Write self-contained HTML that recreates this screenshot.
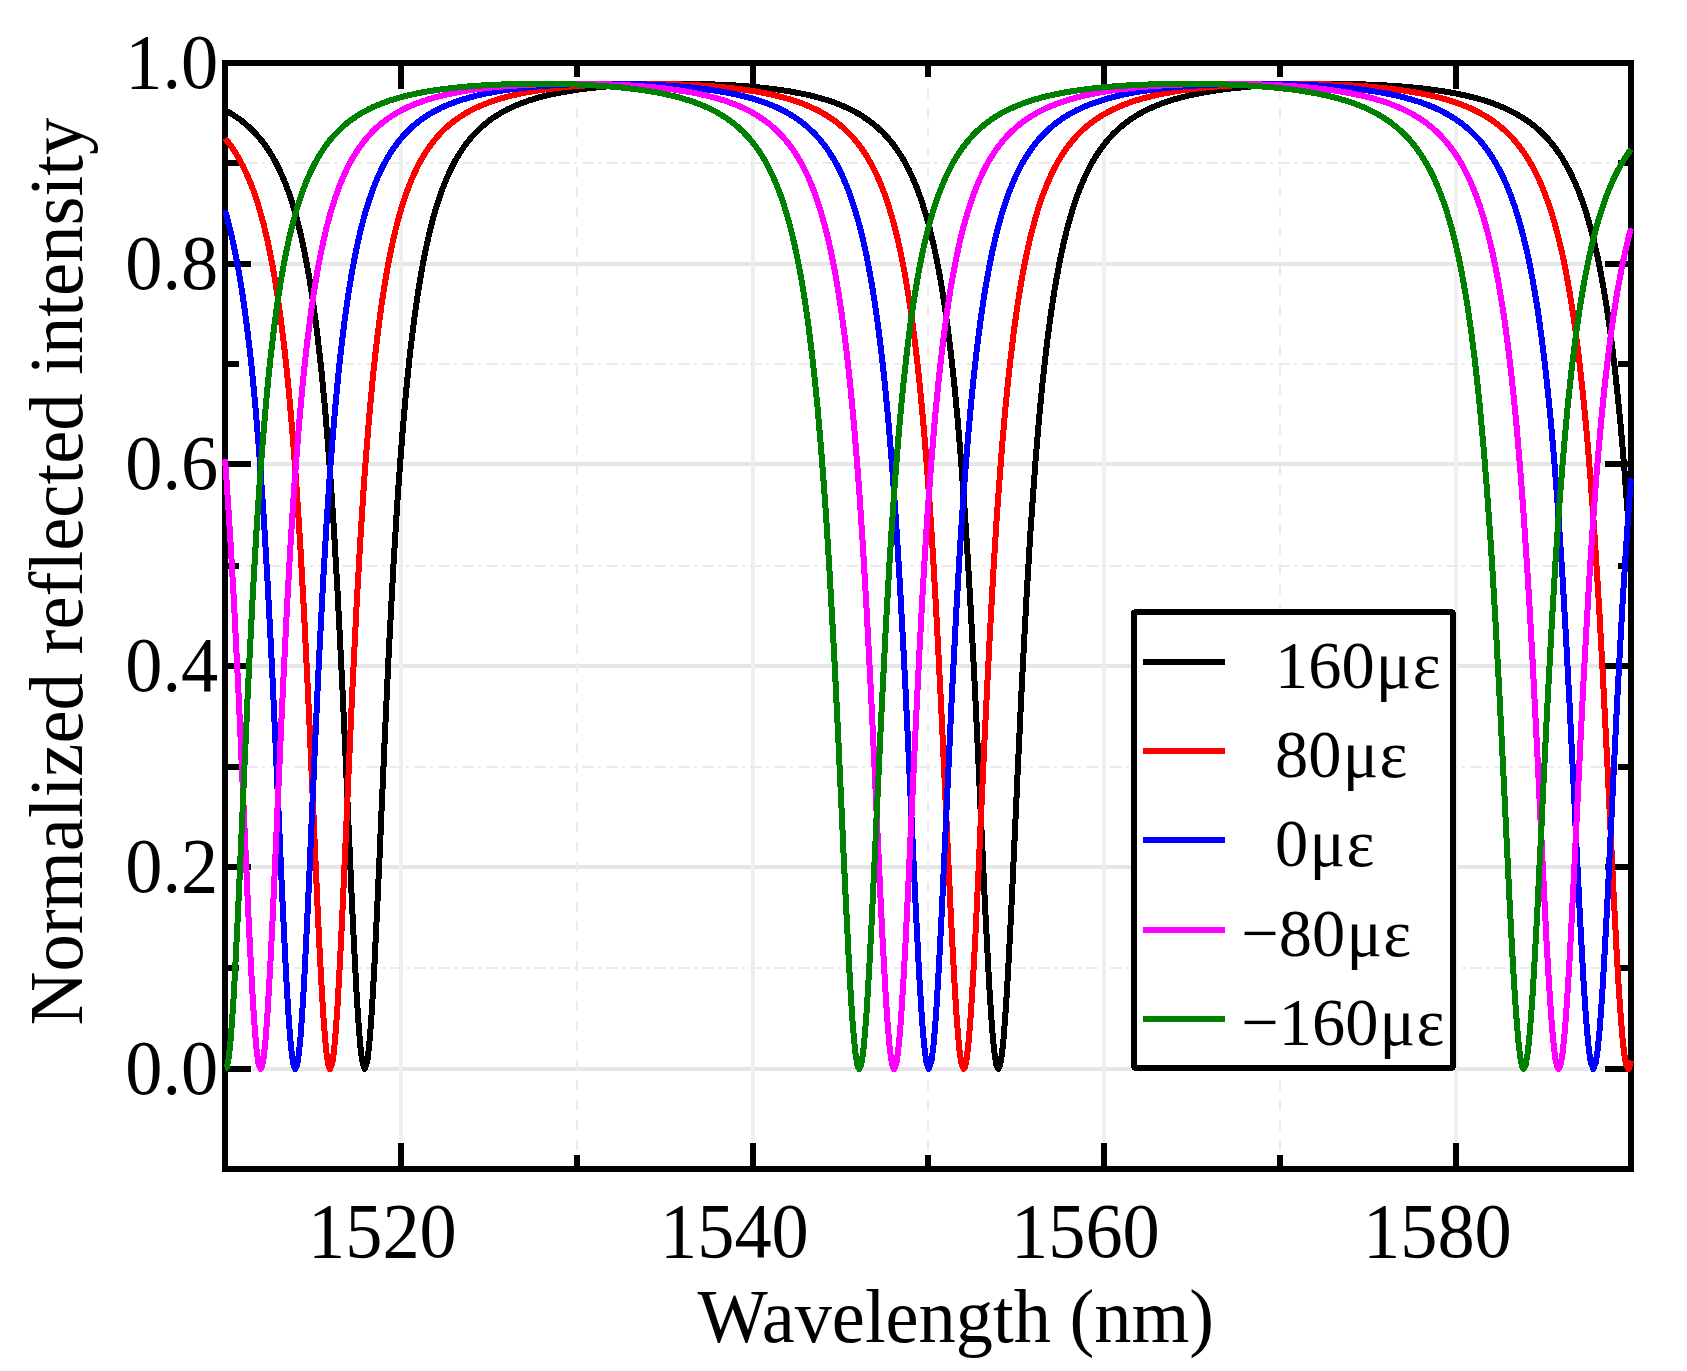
<!DOCTYPE html>
<html lang="en"><head><meta charset="utf-8"><title>Normalized reflected intensity vs wavelength</title>
<style>html,body{margin:0;padding:0;background:#fff;}body{width:1687px;height:1371px;overflow:hidden;}svg{display:block;}text{font-family:"Liberation Serif","Times New Roman",serif;fill:#000;}</style>
</head><body>
<svg width="1687" height="1371" viewBox="0 0 1687 1371">
<rect x="0" y="0" width="1687" height="1371" fill="#ffffff"/>
<defs><clipPath id="ax"><rect x="225" y="63" width="1406" height="1106"/></clipPath></defs>
<g id="grid" fill="none" shape-rendering="crispEdges">
<line x1="252" x2="1604" y1="264" y2="264" stroke="#e6e6e6" stroke-width="4"/>
<line x1="252" x2="1604" y1="464" y2="464" stroke="#e6e6e6" stroke-width="4"/>
<line x1="252" x2="1604" y1="666" y2="666" stroke="#e6e6e6" stroke-width="4"/>
<line x1="252" x2="1604" y1="867" y2="867" stroke="#e6e6e6" stroke-width="4"/>
<line x1="252" x2="1604" y1="1069" y2="1069" stroke="#e6e6e6" stroke-width="4"/>
<line x1="401" x2="401" y1="90" y2="1142" stroke="#efefef" stroke-width="4"/>
<line x1="753" x2="753" y1="90" y2="1142" stroke="#efefef" stroke-width="4"/>
<line x1="1104" x2="1104" y1="90" y2="1142" stroke="#efefef" stroke-width="4"/>
<line x1="1456" x2="1456" y1="90" y2="1142" stroke="#efefef" stroke-width="4"/>
<line x1="222" x2="1618" y1="163" y2="163" stroke="#ebebeb" stroke-width="2" stroke-dasharray="12 4 3 5"/>
<line x1="222" x2="1618" y1="364" y2="364" stroke="#ebebeb" stroke-width="2" stroke-dasharray="12 4 3 5"/>
<line x1="222" x2="1618" y1="566" y2="566" stroke="#ebebeb" stroke-width="2" stroke-dasharray="12 4 3 5"/>
<line x1="222" x2="1618" y1="767" y2="767" stroke="#ebebeb" stroke-width="2" stroke-dasharray="12 4 3 5"/>
<line x1="222" x2="1618" y1="968" y2="968" stroke="#ebebeb" stroke-width="2" stroke-dasharray="12 4 3 5"/>
<line x1="577" x2="577" y1="67.85" y2="1154" stroke="#ebebeb" stroke-width="2" stroke-dasharray="10 9.85"/>
<line x1="928" x2="928" y1="67.85" y2="1154" stroke="#ebebeb" stroke-width="2" stroke-dasharray="10 9.85"/>
<line x1="1280" x2="1280" y1="67.85" y2="1154" stroke="#ebebeb" stroke-width="2" stroke-dasharray="10 9.85"/>
</g>
<g id="frame" stroke="#000" stroke-width="6" fill="none" shape-rendering="crispEdges">
<rect x="225" y="63" width="1406" height="1106"/>
<line x1="401" x2="401" y1="1169" y2="1143"/>
<line x1="401" x2="401" y1="63" y2="89"/>
<line x1="753" x2="753" y1="1169" y2="1143"/>
<line x1="753" x2="753" y1="63" y2="89"/>
<line x1="1104" x2="1104" y1="1169" y2="1143"/>
<line x1="1104" x2="1104" y1="63" y2="89"/>
<line x1="1456" x2="1456" y1="1169" y2="1143"/>
<line x1="1456" x2="1456" y1="63" y2="89"/>
<line x1="577" x2="577" y1="1169" y2="1155"/>
<line x1="577" x2="577" y1="63" y2="77"/>
<line x1="928" x2="928" y1="1169" y2="1155"/>
<line x1="928" x2="928" y1="63" y2="77"/>
<line x1="1280" x2="1280" y1="1169" y2="1155"/>
<line x1="1280" x2="1280" y1="63" y2="77"/>
<line x1="225" x2="251" y1="63" y2="63"/>
<line x1="1631" x2="1605" y1="63" y2="63"/>
<line x1="225" x2="251" y1="264" y2="264"/>
<line x1="1631" x2="1605" y1="264" y2="264"/>
<line x1="225" x2="251" y1="464" y2="464"/>
<line x1="1631" x2="1605" y1="464" y2="464"/>
<line x1="225" x2="251" y1="666" y2="666"/>
<line x1="1631" x2="1605" y1="666" y2="666"/>
<line x1="225" x2="251" y1="867" y2="867"/>
<line x1="1631" x2="1605" y1="867" y2="867"/>
<line x1="225" x2="251" y1="1069" y2="1069"/>
<line x1="1631" x2="1605" y1="1069" y2="1069"/>
<line x1="225" x2="239" y1="163" y2="163"/>
<line x1="1631" x2="1618" y1="163" y2="163"/>
<line x1="225" x2="239" y1="364" y2="364"/>
<line x1="1631" x2="1618" y1="364" y2="364"/>
<line x1="225" x2="239" y1="566" y2="566"/>
<line x1="1631" x2="1618" y1="566" y2="566"/>
<line x1="225" x2="239" y1="767" y2="767"/>
<line x1="1631" x2="1618" y1="767" y2="767"/>
<line x1="225" x2="239" y1="968" y2="968"/>
<line x1="1631" x2="1618" y1="968" y2="968"/>
</g>
<defs><clipPath id="cv"><rect x="221" y="60" width="1414" height="1112"/></clipPath></defs>
<g id="curves" clip-path="url(#cv)" fill="none" stroke-width="6" stroke-linejoin="round" stroke-linecap="butt" shape-rendering="crispEdges">
<polyline stroke="#000000" points="225.0,110.2 226.8,111.1 228.5,112.1 230.3,113.1 232.0,114.2 233.8,115.3 235.5,116.5 237.3,117.7 239.1,118.9 240.8,120.2 242.6,121.6 244.3,123.0 246.1,124.5 247.8,126.0 249.6,127.6 251.4,129.3 253.1,131.0 254.9,132.9 256.6,134.8 258.4,136.8 260.1,138.8 261.9,141.0 263.7,143.3 265.4,145.7 267.2,148.3 268.9,150.9 270.7,153.7 272.5,156.6 274.2,159.7 276.0,162.9 277.7,166.4 279.5,170.0 281.2,173.8 283.0,177.8 284.8,182.0 286.5,186.5 288.3,191.3 290.0,196.3 291.8,201.7 293.5,207.4 295.3,213.4 297.1,219.8 298.8,226.7 300.6,233.9 302.3,241.7 304.1,250.0 305.8,258.8 307.6,268.3 309.4,278.4 311.1,289.3 312.9,300.9 314.6,313.4 316.4,326.8 318.1,341.2 319.9,356.7 321.7,373.4 323.4,391.3 325.2,410.6 326.9,431.3 328.7,453.6 330.4,477.5 332.2,503.1 334.0,530.6 335.7,560.0 337.5,591.2 339.2,624.3 341.0,659.3 342.8,695.9 344.5,734.1 346.3,773.3 348.0,813.2 349.8,853.3 351.5,892.6 353.3,930.4 355.1,965.7 356.8,997.4 358.6,1024.5 360.3,1045.8 362.1,1060.5 364.7,1069.0 367.4,1060.5 369.1,1045.8 370.9,1024.5 372.6,997.5 374.4,965.9 376.1,930.6 377.9,892.9 379.7,853.6 381.4,813.7 383.2,773.9 384.9,734.7 386.7,696.7 388.4,660.2 390.2,625.3 392.0,592.2 393.7,561.0 395.5,531.8 397.2,504.3 399.0,478.7 400.8,454.8 402.5,432.6 404.3,411.9 406.0,392.7 407.8,374.8 409.5,358.1 411.3,342.6 413.1,328.2 414.8,314.8 416.6,302.3 418.3,290.7 420.1,279.8 421.8,269.7 423.6,260.2 425.4,251.3 427.1,243.0 428.9,235.3 430.6,228.0 432.4,221.1 434.1,214.7 435.9,208.6 437.7,203.0 439.4,197.6 441.2,192.5 442.9,187.8 444.7,183.2 446.4,179.0 448.2,174.9 450.0,171.1 451.7,167.5 453.5,164.1 455.2,160.8 457.0,157.7 458.7,154.8 460.5,152.0 462.3,149.3 464.0,146.8 465.8,144.4 467.5,142.1 469.3,139.9 471.1,137.7 472.8,135.7 474.6,133.8 476.3,132.0 478.1,130.2 479.8,128.5 481.6,126.9 483.4,125.4 485.1,123.9 486.9,122.5 488.6,121.1 490.4,119.8 492.1,118.5 493.9,117.3 495.7,116.2 497.4,115.0 499.2,114.0 500.9,112.9 502.7,111.9 504.4,111.0 506.2,110.0 508.0,109.1 509.7,108.3 511.5,107.4 513.2,106.6 515.0,105.8 516.7,105.1 518.5,104.4 520.3,103.7 522.0,103.0 523.8,102.3 525.5,101.7 527.3,101.1 529.0,100.5 530.8,99.9 532.6,99.4 534.3,98.8 536.1,98.3 537.8,97.8 539.6,97.3 541.4,96.8 543.1,96.4 544.9,95.9 546.6,95.5 548.4,95.1 550.1,94.7 551.9,94.3 553.7,93.9 555.4,93.5 557.2,93.2 558.9,92.8 560.7,92.5 562.4,92.2 564.2,91.9 566.0,91.6 567.7,91.3 569.5,91.0 571.2,90.7 573.0,90.4 574.7,90.1 576.5,89.9 578.3,89.6 580.0,89.4 581.8,89.2 583.5,88.9 585.3,88.7 587.0,88.5 588.8,88.3 590.6,88.1 592.3,87.9 594.1,87.7 595.8,87.5 597.6,87.3 599.3,87.2 601.1,87.0 602.9,86.8 604.6,86.7 606.4,86.5 608.1,86.4 609.9,86.2 611.6,86.1 613.4,86.0 615.2,85.8 616.9,85.7 618.7,85.6 620.4,85.5 622.2,85.4 624.0,85.3 625.7,85.2 627.5,85.1 629.2,85.0 631.0,84.9 632.7,84.8 634.5,84.7 636.3,84.6 638.0,84.6 639.8,84.5 641.5,84.4 643.3,84.3 645.0,84.3 646.8,84.2 648.6,84.2 650.3,84.1 652.1,84.1 653.8,84.0 655.6,84.0 657.3,84.0 659.1,83.9 660.9,83.9 662.6,83.9 664.4,83.8 666.1,83.8 667.9,83.8 669.6,83.8 671.4,83.8 673.2,83.8 674.9,83.7 676.7,83.7 678.4,83.7 680.2,83.7 682.0,83.8 683.7,83.8 685.5,83.8 687.2,83.8 689.0,83.8 690.7,83.8 692.5,83.9 694.3,83.9 696.0,83.9 697.8,83.9 699.5,84.0 701.3,84.0 703.0,84.1 704.8,84.1 706.6,84.2 708.3,84.2 710.1,84.3 711.8,84.3 713.6,84.4 715.3,84.5 717.1,84.5 718.9,84.6 720.6,84.7 722.4,84.8 724.1,84.9 725.9,84.9 727.6,85.0 729.4,85.1 731.2,85.2 732.9,85.3 734.7,85.4 736.4,85.6 738.2,85.7 739.9,85.8 741.7,85.9 743.5,86.0 745.2,86.2 747.0,86.3 748.7,86.5 750.5,86.6 752.2,86.8 754.0,86.9 755.8,87.1 757.5,87.2 759.3,87.4 761.0,87.6 762.8,87.8 764.6,88.0 766.3,88.2 768.1,88.4 769.8,88.6 771.6,88.8 773.3,89.0 775.1,89.2 776.9,89.5 778.6,89.7 780.4,90.0 782.1,90.2 783.9,90.5 785.6,90.8 787.4,91.0 789.2,91.3 790.9,91.6 792.7,91.9 794.4,92.2 796.2,92.6 797.9,92.9 799.7,93.2 801.5,93.6 803.2,94.0 805.0,94.3 806.7,94.7 808.5,95.1 810.2,95.5 812.0,96.0 813.8,96.4 815.5,96.8 817.3,97.3 819.0,97.8 820.8,98.3 822.5,98.8 824.3,99.3 826.1,99.8 827.8,100.4 829.6,101.0 831.3,101.6 833.1,102.2 834.9,102.8 836.6,103.5 838.4,104.2 840.1,104.9 841.9,105.6 843.6,106.3 845.4,107.1 847.2,107.9 848.9,108.7 850.7,109.6 852.4,110.5 854.2,111.4 855.9,112.4 857.7,113.3 859.5,114.4 861.2,115.4 863.0,116.5 864.7,117.7 866.5,118.9 868.2,120.1 870.0,121.4 871.8,122.8 873.5,124.1 875.3,125.6 877.0,127.1 878.8,128.7 880.5,130.3 882.3,132.0 884.1,133.8 885.8,135.7 887.6,137.6 889.3,139.6 891.1,141.8 892.9,144.0 894.6,146.3 896.4,148.7 898.1,151.3 899.9,154.0 901.6,156.8 903.4,159.7 905.2,162.8 906.9,166.1 908.7,169.5 910.4,173.1 912.2,176.9 913.9,180.9 915.7,185.1 917.5,189.5 919.2,194.2 921.0,199.2 922.7,204.5 924.5,210.1 926.2,216.0 928.0,222.2 929.8,228.9 931.5,236.0 933.3,243.5 935.0,251.5 936.8,260.0 938.5,269.1 940.3,278.8 942.1,289.2 943.8,300.3 945.6,312.1 947.3,324.8 949.1,338.4 950.8,353.0 952.6,368.5 954.4,385.3 956.1,403.2 957.9,422.4 959.6,443.0 961.4,465.0 963.1,488.6 964.9,513.8 966.7,540.7 968.4,569.2 970.2,599.6 971.9,631.6 973.7,665.3 975.5,700.4 977.2,736.9 979.0,774.4 980.7,812.5 982.5,850.7 984.2,888.4 986.0,924.7 987.8,958.9 989.5,990.0 991.3,1017.1 993.0,1039.2 994.8,1055.7 996.5,1065.7 998.3,1069.0 1000.1,1065.4 1001.8,1055.0 1003.6,1038.3 1005.3,1015.9 1007.1,988.7 1008.8,957.5 1010.6,923.2 1012.4,886.9 1014.1,849.3 1015.9,811.2 1017.6,773.2 1019.4,735.9 1021.1,699.5 1022.9,664.5 1024.7,631.0 1026.4,599.1 1028.2,568.9 1029.9,540.5 1031.7,513.8 1033.5,488.7 1035.2,465.2 1037.0,443.3 1038.7,422.8 1040.5,403.7 1042.2,385.8 1044.0,369.2 1045.8,353.7 1047.5,339.2 1049.3,325.6 1051.0,313.0 1052.8,301.2 1054.5,290.1 1056.3,279.8 1058.1,270.1 1059.8,261.0 1061.6,252.5 1063.3,244.5 1065.1,237.0 1066.8,229.9 1068.6,223.3 1070.4,217.0 1072.1,211.1 1073.9,205.5 1075.6,200.2 1077.4,195.3 1079.1,190.6 1080.9,186.1 1082.7,181.9 1084.4,177.9 1086.2,174.1 1087.9,170.5 1089.7,167.1 1091.4,163.8 1093.2,160.7 1095.0,157.8 1096.7,154.9 1098.5,152.3 1100.2,149.7 1102.0,147.3 1103.8,144.9 1105.5,142.7 1107.3,140.6 1109.0,138.5 1110.8,136.6 1112.5,134.7 1114.3,132.9 1116.1,131.2 1117.8,129.6 1119.6,128.0 1121.3,126.5 1123.1,125.0 1124.8,123.6 1126.6,122.3 1128.4,121.0 1130.1,119.7 1131.9,118.5 1133.6,117.4 1135.4,116.2 1137.1,115.2 1138.9,114.1 1140.7,113.1 1142.4,112.2 1144.2,111.2 1145.9,110.3 1147.7,109.5 1149.4,108.6 1151.2,107.8 1153.0,107.1 1154.7,106.3 1156.5,105.6 1158.2,104.9 1160.0,104.2 1161.7,103.5 1163.5,102.9 1165.3,102.2 1167.0,101.6 1168.8,101.1 1170.5,100.5 1172.3,100.0 1174.0,99.4 1175.8,98.9 1177.6,98.4 1179.3,97.9 1181.1,97.5 1182.8,97.0 1184.6,96.6 1186.4,96.1 1188.1,95.7 1189.9,95.3 1191.6,94.9 1193.4,94.5 1195.1,94.2 1196.9,93.8 1198.7,93.5 1200.4,93.1 1202.2,92.8 1203.9,92.5 1205.7,92.2 1207.4,91.9 1209.2,91.6 1211.0,91.3 1212.7,91.0 1214.5,90.7 1216.2,90.5 1218.0,90.2 1219.7,90.0 1221.5,89.7 1223.3,89.5 1225.0,89.3 1226.8,89.0 1228.5,88.8 1230.3,88.6 1232.0,88.4 1233.8,88.2 1235.6,88.0 1237.3,87.8 1239.1,87.7 1240.8,87.5 1242.6,87.3 1244.3,87.2 1246.1,87.0 1247.9,86.8 1249.6,86.7 1251.4,86.5 1253.1,86.4 1254.9,86.3 1256.7,86.1 1258.4,86.0 1260.2,85.9 1261.9,85.8 1263.7,85.6 1265.4,85.5 1267.2,85.4 1269.0,85.3 1270.7,85.2 1272.5,85.1 1274.2,85.0 1276.0,84.9 1277.7,84.9 1279.5,84.8 1281.3,84.7 1283.0,84.6 1284.8,84.6 1286.5,84.5 1288.3,84.4 1290.0,84.4 1291.8,84.3 1293.6,84.2 1295.3,84.2 1297.1,84.1 1298.8,84.1 1300.6,84.1 1302.3,84.0 1304.1,84.0 1305.9,83.9 1307.6,83.9 1309.4,83.9 1311.1,83.8 1312.9,83.8 1314.7,83.8 1316.4,83.8 1318.2,83.8 1319.9,83.8 1321.7,83.8 1323.4,83.7 1325.2,83.7 1327.0,83.7 1328.7,83.7 1330.5,83.7 1332.2,83.8 1334.0,83.8 1335.7,83.8 1337.5,83.8 1339.3,83.8 1341.0,83.8 1342.8,83.9 1344.5,83.9 1346.3,83.9 1348.0,84.0 1349.8,84.0 1351.6,84.0 1353.3,84.1 1355.1,84.1 1356.8,84.2 1358.6,84.2 1360.3,84.3 1362.1,84.3 1363.9,84.4 1365.6,84.5 1367.4,84.5 1369.1,84.6 1370.9,84.7 1372.6,84.7 1374.4,84.8 1376.2,84.9 1377.9,85.0 1379.7,85.1 1381.4,85.2 1383.2,85.3 1385.0,85.4 1386.7,85.5 1388.5,85.6 1390.2,85.7 1392.0,85.8 1393.7,85.9 1395.5,86.1 1397.3,86.2 1399.0,86.3 1400.8,86.4 1402.5,86.6 1404.3,86.7 1406.0,86.9 1407.8,87.0 1409.6,87.2 1411.3,87.4 1413.1,87.5 1414.8,87.7 1416.6,87.9 1418.3,88.1 1420.1,88.3 1421.9,88.4 1423.6,88.6 1425.4,88.9 1427.1,89.1 1428.9,89.3 1430.6,89.5 1432.4,89.7 1434.2,90.0 1435.9,90.2 1437.7,90.5 1439.4,90.7 1441.2,91.0 1442.9,91.3 1444.7,91.5 1446.5,91.8 1448.2,92.1 1450.0,92.4 1451.7,92.8 1453.5,93.1 1455.2,93.4 1457.0,93.7 1458.8,94.1 1460.5,94.5 1462.3,94.8 1464.0,95.2 1465.8,95.6 1467.6,96.0 1469.3,96.4 1471.1,96.9 1472.8,97.3 1474.6,97.8 1476.3,98.2 1478.1,98.7 1479.9,99.2 1481.6,99.7 1483.4,100.2 1485.1,100.8 1486.9,101.3 1488.6,101.9 1490.4,102.5 1492.2,103.1 1493.9,103.8 1495.7,104.4 1497.4,105.1 1499.2,105.8 1500.9,106.5 1502.7,107.3 1504.5,108.0 1506.2,108.8 1508.0,109.7 1509.7,110.5 1511.5,111.4 1513.2,112.3 1515.0,113.2 1516.8,114.2 1518.5,115.2 1520.3,116.3 1522.0,117.3 1523.8,118.5 1525.5,119.6 1527.3,120.8 1529.1,122.1 1530.8,123.4 1532.6,124.7 1534.3,126.1 1536.1,127.6 1537.9,129.1 1539.6,130.7 1541.4,132.3 1543.1,134.1 1544.9,135.8 1546.6,137.7 1548.4,139.6 1550.2,141.6 1551.9,143.8 1553.7,146.0 1555.4,148.3 1557.2,150.7 1558.9,153.2 1560.7,155.8 1562.5,158.6 1564.2,161.5 1566.0,164.5 1567.7,167.7 1569.5,171.0 1571.2,174.5 1573.0,178.2 1574.8,182.1 1576.5,186.1 1578.3,190.4 1580.0,195.0 1581.8,199.7 1583.5,204.8 1585.3,210.1 1587.1,215.7 1588.8,221.7 1590.6,228.0 1592.3,234.7 1594.1,241.8 1595.8,249.3 1597.6,257.2 1599.4,265.7 1601.1,274.8 1602.9,284.4 1604.6,294.6 1606.4,305.5 1608.2,317.1 1609.9,329.5 1611.7,342.7 1613.4,356.9 1615.2,372.0 1616.9,388.1 1618.7,405.4 1620.5,423.8 1622.2,443.5 1624.0,464.5 1625.7,486.9 1627.5,510.7 1629.2,536.1 1631.0,563.0"/>
<polyline stroke="#ff0000" points="225.0,138.2 226.8,140.4 228.5,142.6 230.3,145.0 232.0,147.5 233.8,150.1 235.5,152.8 237.3,155.7 239.1,158.8 240.8,162.0 242.6,165.3 244.3,168.9 246.1,172.6 247.8,176.6 249.6,180.7 251.4,185.2 253.1,189.8 254.9,194.8 256.6,200.1 258.4,205.6 260.1,211.6 261.9,217.9 263.7,224.6 265.4,231.7 267.2,239.3 268.9,247.4 270.7,256.1 272.5,265.4 274.2,275.3 276.0,286.0 277.7,297.4 279.5,309.6 281.2,322.7 283.0,336.8 284.8,352.0 286.5,368.3 288.3,385.8 290.0,404.6 291.8,424.9 293.5,446.7 295.3,470.1 297.1,495.3 298.8,522.2 300.6,550.9 302.3,581.6 304.1,614.2 305.8,648.6 307.6,684.8 309.4,722.5 311.1,761.4 312.9,801.2 314.6,841.3 316.4,880.9 318.1,919.3 319.9,955.5 321.7,988.4 323.4,1016.9 325.2,1040.0 326.9,1056.8 328.7,1066.6 330.1,1069.0 332.2,1063.6 334.0,1050.9 335.7,1031.5 337.5,1006.1 339.2,975.8 341.0,941.5 342.8,904.4 344.5,865.5 346.3,825.7 348.0,785.8 349.8,746.4 351.5,708.0 353.3,671.0 355.1,635.6 356.8,601.9 358.6,570.2 360.3,540.3 362.1,512.4 363.8,486.2 365.6,461.8 367.4,439.1 369.1,418.0 370.9,398.3 372.6,380.0 374.4,363.0 376.1,347.2 377.9,332.4 379.7,318.7 381.4,306.0 383.2,294.1 384.9,283.0 386.7,272.6 388.4,263.0 390.2,253.9 392.0,245.5 393.7,237.5 395.5,230.1 397.2,223.1 399.0,216.6 400.8,210.4 402.5,204.6 404.3,199.2 406.0,194.0 407.8,189.2 409.5,184.6 411.3,180.2 413.1,176.1 414.8,172.3 416.6,168.6 418.3,165.1 420.1,161.8 421.8,158.6 423.6,155.6 425.4,152.8 427.1,150.1 428.9,147.5 430.6,145.1 432.4,142.7 434.1,140.5 435.9,138.4 437.7,136.3 439.4,134.4 441.2,132.5 442.9,130.7 444.7,129.0 446.4,127.4 448.2,125.8 450.0,124.3 451.7,122.9 453.5,121.5 455.2,120.2 457.0,118.9 458.7,117.7 460.5,116.5 462.3,115.4 464.0,114.3 465.8,113.2 467.5,112.2 469.3,111.2 471.1,110.3 472.8,109.4 474.6,108.5 476.3,107.7 478.1,106.9 479.8,106.1 481.6,105.3 483.4,104.6 485.1,103.9 486.9,103.2 488.6,102.5 490.4,101.9 492.1,101.3 493.9,100.7 495.7,100.1 497.4,99.5 499.2,99.0 500.9,98.5 502.7,98.0 504.4,97.5 506.2,97.0 508.0,96.5 509.7,96.1 511.5,95.6 513.2,95.2 515.0,94.8 516.7,94.4 518.5,94.0 520.3,93.7 522.0,93.3 523.8,92.9 525.5,92.6 527.3,92.3 529.0,92.0 530.8,91.6 532.6,91.3 534.3,91.0 536.1,90.8 537.8,90.5 539.6,90.2 541.4,90.0 543.1,89.7 544.9,89.5 546.6,89.2 548.4,89.0 550.1,88.8 551.9,88.6 553.7,88.3 555.4,88.1 557.2,87.9 558.9,87.8 560.7,87.6 562.4,87.4 564.2,87.2 566.0,87.0 567.7,86.9 569.5,86.7 571.2,86.6 573.0,86.4 574.7,86.3 576.5,86.1 578.3,86.0 580.0,85.9 581.8,85.8 583.5,85.6 585.3,85.5 587.0,85.4 588.8,85.3 590.6,85.2 592.3,85.1 594.1,85.0 595.8,84.9 597.6,84.8 599.3,84.7 601.1,84.7 602.9,84.6 604.6,84.5 606.4,84.4 608.1,84.4 609.9,84.3 611.6,84.2 613.4,84.2 615.2,84.1 616.9,84.1 618.7,84.0 620.4,84.0 622.2,84.0 624.0,83.9 625.7,83.9 627.5,83.9 629.2,83.8 631.0,83.8 632.7,83.8 634.5,83.8 636.3,83.8 638.0,83.8 639.8,83.7 641.5,83.7 643.3,83.7 645.0,83.7 646.8,83.7 648.6,83.8 650.3,83.8 652.1,83.8 653.8,83.8 655.6,83.8 657.3,83.8 659.1,83.9 660.9,83.9 662.6,83.9 664.4,84.0 666.1,84.0 667.9,84.1 669.6,84.1 671.4,84.1 673.2,84.2 674.9,84.3 676.7,84.3 678.4,84.4 680.2,84.4 682.0,84.5 683.7,84.6 685.5,84.7 687.2,84.7 689.0,84.8 690.7,84.9 692.5,85.0 694.3,85.1 696.0,85.2 697.8,85.3 699.5,85.4 701.3,85.5 703.0,85.6 704.8,85.8 706.6,85.9 708.3,86.0 710.1,86.1 711.8,86.3 713.6,86.4 715.3,86.6 717.1,86.7 718.9,86.9 720.6,87.0 722.4,87.2 724.1,87.4 725.9,87.5 727.6,87.7 729.4,87.9 731.2,88.1 732.9,88.3 734.7,88.5 736.4,88.7 738.2,88.9 739.9,89.2 741.7,89.4 743.5,89.6 745.2,89.9 747.0,90.1 748.7,90.4 750.5,90.7 752.2,91.0 754.0,91.2 755.8,91.5 757.5,91.8 759.3,92.1 761.0,92.5 762.8,92.8 764.6,93.1 766.3,93.5 768.1,93.8 769.8,94.2 771.6,94.6 773.3,95.0 775.1,95.4 776.9,95.8 778.6,96.3 780.4,96.7 782.1,97.2 783.9,97.6 785.6,98.1 787.4,98.6 789.2,99.1 790.9,99.7 792.7,100.2 794.4,100.8 796.2,101.4 797.9,102.0 799.7,102.6 801.5,103.3 803.2,103.9 805.0,104.6 806.7,105.4 808.5,106.1 810.2,106.9 812.0,107.7 813.8,108.5 815.5,109.3 817.3,110.2 819.0,111.1 820.8,112.1 822.5,113.0 824.3,114.1 826.1,115.1 827.8,116.2 829.6,117.3 831.3,118.5 833.1,119.7 834.9,121.0 836.6,122.3 838.4,123.7 840.1,125.2 841.9,126.6 843.6,128.2 845.4,129.8 847.2,131.5 848.9,133.3 850.7,135.1 852.4,137.0 854.2,139.0 855.9,141.1 857.7,143.3 859.5,145.6 861.2,148.0 863.0,150.5 864.7,153.1 866.5,155.9 868.2,158.8 870.0,161.9 871.8,165.1 873.5,168.4 875.3,172.0 877.0,175.7 878.8,179.6 880.5,183.8 882.3,188.2 884.1,192.8 885.8,197.7 887.6,202.9 889.3,208.3 891.1,214.2 892.9,220.3 894.6,226.9 896.4,233.8 898.1,241.2 899.9,249.0 901.6,257.4 903.4,266.3 905.2,275.9 906.9,286.0 908.7,296.9 910.4,308.5 912.2,320.9 913.9,334.2 915.7,348.5 917.5,363.8 919.2,380.1 921.0,397.7 922.7,416.5 924.5,436.6 926.2,458.2 928.0,481.3 929.8,506.1 931.5,532.4 933.3,560.5 935.0,590.3 936.8,621.8 938.5,655.0 940.3,689.7 942.1,725.9 943.8,763.1 945.6,801.1 947.3,839.3 949.1,877.2 950.8,914.0 952.6,948.9 954.4,981.0 956.1,1009.4 957.9,1033.2 959.6,1051.4 961.4,1063.4 963.6,1069.0 964.9,1067.2 966.7,1058.8 968.4,1044.0 970.2,1023.2 971.9,997.3 973.7,967.2 975.5,933.8 977.2,898.0 979.0,860.7 980.7,822.6 982.5,784.6 984.2,747.0 986.0,710.3 987.8,674.9 989.5,640.9 991.3,608.5 993.0,577.8 994.8,548.8 996.5,521.6 998.3,496.0 1000.1,472.1 1001.8,449.7 1003.6,428.8 1005.3,409.3 1007.1,391.1 1008.8,374.1 1010.6,358.2 1012.4,343.4 1014.1,329.6 1015.9,316.7 1017.6,304.6 1019.4,293.4 1021.1,282.8 1022.9,272.9 1024.7,263.7 1026.4,255.0 1028.2,246.8 1029.9,239.2 1031.7,232.0 1033.5,225.2 1035.2,218.8 1037.0,212.8 1038.7,207.1 1040.5,201.8 1042.2,196.7 1044.0,191.9 1045.8,187.4 1047.5,183.1 1049.3,179.1 1051.0,175.2 1052.8,171.5 1054.5,168.1 1056.3,164.8 1058.1,161.6 1059.8,158.6 1061.6,155.8 1063.3,153.0 1065.1,150.5 1066.8,148.0 1068.6,145.6 1070.4,143.4 1072.1,141.2 1073.9,139.1 1075.6,137.2 1077.4,135.3 1079.1,133.5 1080.9,131.7 1082.7,130.0 1084.4,128.4 1086.2,126.9 1087.9,125.4 1089.7,124.0 1091.4,122.7 1093.2,121.3 1095.0,120.1 1096.7,118.9 1098.5,117.7 1100.2,116.6 1102.0,115.5 1103.8,114.4 1105.5,113.4 1107.3,112.5 1109.0,111.5 1110.8,110.6 1112.5,109.7 1114.3,108.9 1116.1,108.1 1117.8,107.3 1119.6,106.5 1121.3,105.8 1123.1,105.1 1124.8,104.4 1126.6,103.7 1128.4,103.1 1130.1,102.4 1131.9,101.8 1133.6,101.2 1135.4,100.7 1137.1,100.1 1138.9,99.6 1140.7,99.1 1142.4,98.6 1144.2,98.1 1145.9,97.6 1147.7,97.1 1149.4,96.7 1151.2,96.3 1153.0,95.8 1154.7,95.4 1156.5,95.0 1158.2,94.6 1160.0,94.3 1161.7,93.9 1163.5,93.6 1165.3,93.2 1167.0,92.9 1168.8,92.6 1170.5,92.2 1172.3,91.9 1174.0,91.6 1175.8,91.4 1177.6,91.1 1179.3,90.8 1181.1,90.5 1182.8,90.3 1184.6,90.0 1186.4,89.8 1188.1,89.6 1189.9,89.3 1191.6,89.1 1193.4,88.9 1195.1,88.7 1196.9,88.5 1198.7,88.3 1200.4,88.1 1202.2,87.9 1203.9,87.7 1205.7,87.5 1207.4,87.4 1209.2,87.2 1211.0,87.0 1212.7,86.9 1214.5,86.7 1216.2,86.6 1218.0,86.4 1219.7,86.3 1221.5,86.2 1223.3,86.0 1225.0,85.9 1226.8,85.8 1228.5,85.7 1230.3,85.6 1232.0,85.5 1233.8,85.4 1235.6,85.3 1237.3,85.2 1239.1,85.1 1240.8,85.0 1242.6,84.9 1244.3,84.8 1246.1,84.7 1247.9,84.6 1249.6,84.6 1251.4,84.5 1253.1,84.4 1254.9,84.4 1256.7,84.3 1258.4,84.3 1260.2,84.2 1261.9,84.2 1263.7,84.1 1265.4,84.1 1267.2,84.0 1269.0,84.0 1270.7,83.9 1272.5,83.9 1274.2,83.9 1276.0,83.9 1277.7,83.8 1279.5,83.8 1281.3,83.8 1283.0,83.8 1284.8,83.8 1286.5,83.8 1288.3,83.7 1290.0,83.7 1291.8,83.7 1293.6,83.7 1295.3,83.7 1297.1,83.8 1298.8,83.8 1300.6,83.8 1302.3,83.8 1304.1,83.8 1305.9,83.8 1307.6,83.9 1309.4,83.9 1311.1,83.9 1312.9,83.9 1314.7,84.0 1316.4,84.0 1318.2,84.1 1319.9,84.1 1321.7,84.2 1323.4,84.2 1325.2,84.3 1327.0,84.3 1328.7,84.4 1330.5,84.4 1332.2,84.5 1334.0,84.6 1335.7,84.6 1337.5,84.7 1339.3,84.8 1341.0,84.9 1342.8,85.0 1344.5,85.0 1346.3,85.1 1348.0,85.2 1349.8,85.3 1351.6,85.4 1353.3,85.5 1355.1,85.7 1356.8,85.8 1358.6,85.9 1360.3,86.0 1362.1,86.1 1363.9,86.3 1365.6,86.4 1367.4,86.5 1369.1,86.7 1370.9,86.8 1372.6,87.0 1374.4,87.1 1376.2,87.3 1377.9,87.5 1379.7,87.6 1381.4,87.8 1383.2,88.0 1385.0,88.2 1386.7,88.4 1388.5,88.6 1390.2,88.8 1392.0,89.0 1393.7,89.2 1395.5,89.4 1397.3,89.7 1399.0,89.9 1400.8,90.1 1402.5,90.4 1404.3,90.7 1406.0,90.9 1407.8,91.2 1409.6,91.5 1411.3,91.7 1413.1,92.0 1414.8,92.3 1416.6,92.7 1418.3,93.0 1420.1,93.3 1421.9,93.6 1423.6,94.0 1425.4,94.4 1427.1,94.7 1428.9,95.1 1430.6,95.5 1432.4,95.9 1434.2,96.3 1435.9,96.7 1437.7,97.2 1439.4,97.6 1441.2,98.1 1442.9,98.6 1444.7,99.1 1446.5,99.6 1448.2,100.1 1450.0,100.6 1451.7,101.2 1453.5,101.8 1455.2,102.3 1457.0,103.0 1458.8,103.6 1460.5,104.2 1462.3,104.9 1464.0,105.6 1465.8,106.3 1467.6,107.0 1469.3,107.8 1471.1,108.6 1472.8,109.4 1474.6,110.2 1476.3,111.1 1478.1,112.0 1479.9,112.9 1481.6,113.9 1483.4,114.9 1485.1,115.9 1486.9,117.0 1488.6,118.1 1490.4,119.3 1492.2,120.5 1493.9,121.7 1495.7,123.0 1497.4,124.3 1499.2,125.7 1500.9,127.2 1502.7,128.7 1504.5,130.2 1506.2,131.8 1508.0,133.5 1509.7,135.3 1511.5,137.1 1513.2,139.0 1515.0,141.0 1516.8,143.1 1518.5,145.3 1520.3,147.6 1522.0,149.9 1523.8,152.4 1525.5,155.0 1527.3,157.7 1529.1,160.6 1530.8,163.6 1532.6,166.7 1534.3,170.0 1536.1,173.4 1537.9,177.1 1539.6,180.9 1541.4,184.9 1543.1,189.1 1544.9,193.6 1546.6,198.3 1548.4,203.2 1550.2,208.5 1551.9,214.0 1553.7,219.9 1555.4,226.1 1557.2,232.6 1558.9,239.6 1560.7,247.0 1562.5,254.8 1564.2,263.1 1566.0,272.0 1567.7,281.4 1569.5,291.4 1571.2,302.1 1573.0,313.5 1574.8,325.7 1576.5,338.7 1578.3,352.5 1580.0,367.3 1581.8,383.2 1583.5,400.1 1585.3,418.1 1587.1,437.4 1588.8,458.0 1590.6,480.0 1592.3,503.4 1594.1,528.3 1595.8,554.8 1597.6,582.8 1599.4,612.4 1601.1,643.6 1602.9,676.2 1604.6,710.1 1606.4,745.1 1608.2,781.0 1609.9,817.3 1611.7,853.7 1613.4,889.5 1615.2,924.2 1616.9,956.8 1618.7,986.8 1620.5,1013.1 1622.2,1035.2 1624.0,1052.1 1625.7,1063.4 1628.1,1069.0 1629.2,1067.6 1631.0,1060.4"/>
<polyline stroke="#0000ff" points="225.0,210.3 226.8,216.6 228.5,223.2 230.3,230.2 232.0,237.8 233.8,245.8 235.5,254.3 237.3,263.5 239.1,273.3 240.8,283.8 242.6,295.0 244.3,307.1 246.1,320.0 247.8,333.9 249.6,348.8 251.4,364.9 253.1,382.2 254.9,400.8 256.6,420.7 258.4,442.2 260.1,465.3 261.9,490.1 263.7,516.6 265.4,545.0 267.2,575.3 268.9,607.5 270.7,641.6 272.5,677.4 274.2,714.8 276.0,753.6 277.7,793.2 279.5,833.3 281.2,873.1 283.0,911.8 284.8,948.5 286.5,982.1 288.3,1011.6 290.0,1035.9 291.8,1054.0 293.5,1065.2 295.3,1069.0 297.1,1065.2 298.8,1054.0 300.6,1035.9 302.3,1011.7 304.1,982.2 305.8,948.6 307.6,912.0 309.4,873.4 311.1,833.7 312.9,793.8 314.6,754.2 316.4,715.6 318.1,678.2 319.9,642.5 321.7,608.5 323.4,576.4 325.2,546.2 326.9,517.8 328.7,491.3 330.4,466.6 332.2,443.5 334.0,422.1 335.7,402.1 337.5,383.5 339.2,366.3 341.0,350.2 342.8,335.3 344.5,321.4 346.3,308.5 348.0,296.4 349.8,285.2 351.5,274.7 353.3,264.9 355.1,255.7 356.8,247.1 358.6,239.1 360.3,231.6 362.1,224.5 363.8,217.9 365.6,211.6 367.4,205.8 369.1,200.2 370.9,195.0 372.6,190.1 374.4,185.5 376.1,181.1 377.9,176.9 379.7,173.0 381.4,169.3 383.2,165.8 384.9,162.4 386.7,159.2 388.4,156.2 390.2,153.4 392.0,150.6 393.7,148.0 395.5,145.6 397.2,143.2 399.0,140.9 400.8,138.8 402.5,136.7 404.3,134.8 406.0,132.9 407.8,131.1 409.5,129.4 411.3,127.7 413.1,126.1 414.8,124.6 416.6,123.2 418.3,121.8 420.1,120.4 421.8,119.2 423.6,117.9 425.4,116.7 427.1,115.6 428.9,114.5 430.6,113.4 432.4,112.4 434.1,111.4 435.9,110.5 437.7,109.6 439.4,108.7 441.2,107.8 442.9,107.0 444.7,106.2 446.4,105.5 448.2,104.7 450.0,104.0 451.7,103.3 453.5,102.7 455.2,102.0 457.0,101.4 458.7,100.8 460.5,100.2 462.3,99.6 464.0,99.1 465.8,98.6 467.5,98.1 469.3,97.6 471.1,97.1 472.8,96.6 474.6,96.2 476.3,95.7 478.1,95.3 479.8,94.9 481.6,94.5 483.4,94.1 485.1,93.7 486.9,93.4 488.6,93.0 490.4,92.7 492.1,92.3 493.9,92.0 495.7,91.7 497.4,91.4 499.2,91.1 500.9,90.8 502.7,90.5 504.4,90.3 506.2,90.0 508.0,89.8 509.7,89.5 511.5,89.3 513.2,89.0 515.0,88.8 516.7,88.6 518.5,88.4 520.3,88.2 522.0,88.0 523.8,87.8 525.5,87.6 527.3,87.4 529.0,87.2 530.8,87.1 532.6,86.9 534.3,86.8 536.1,86.6 537.8,86.5 539.6,86.3 541.4,86.2 543.1,86.0 544.9,85.9 546.6,85.8 548.4,85.7 550.1,85.5 551.9,85.4 553.7,85.3 555.4,85.2 557.2,85.1 558.9,85.0 560.7,84.9 562.4,84.8 564.2,84.8 566.0,84.7 567.7,84.6 569.5,84.5 571.2,84.4 573.0,84.4 574.7,84.3 576.5,84.3 578.3,84.2 580.0,84.1 581.8,84.1 583.5,84.1 585.3,84.0 587.0,84.0 588.8,83.9 590.6,83.9 592.3,83.9 594.1,83.8 595.8,83.8 597.6,83.8 599.3,83.8 601.1,83.8 602.9,83.8 604.6,83.7 606.4,83.7 608.1,83.7 609.9,83.7 611.6,83.7 613.4,83.8 615.2,83.8 616.9,83.8 618.7,83.8 620.4,83.8 622.2,83.8 624.0,83.9 625.7,83.9 627.5,83.9 629.2,84.0 631.0,84.0 632.7,84.0 634.5,84.1 636.3,84.1 638.0,84.2 639.8,84.2 641.5,84.3 643.3,84.4 645.0,84.4 646.8,84.5 648.6,84.6 650.3,84.6 652.1,84.7 653.8,84.8 655.6,84.9 657.3,85.0 659.1,85.1 660.9,85.2 662.6,85.3 664.4,85.4 666.1,85.5 667.9,85.6 669.6,85.7 671.4,85.9 673.2,86.0 674.9,86.1 676.7,86.2 678.4,86.4 680.2,86.5 682.0,86.7 683.7,86.8 685.5,87.0 687.2,87.2 689.0,87.3 690.7,87.5 692.5,87.7 694.3,87.9 696.0,88.1 697.8,88.3 699.5,88.5 701.3,88.7 703.0,88.9 704.8,89.1 706.6,89.4 708.3,89.6 710.1,89.8 711.8,90.1 713.6,90.4 715.3,90.6 717.1,90.9 718.9,91.2 720.6,91.5 722.4,91.8 724.1,92.1 725.9,92.4 727.6,92.7 729.4,93.1 731.2,93.4 732.9,93.8 734.7,94.1 736.4,94.5 738.2,94.9 739.9,95.3 741.7,95.7 743.5,96.2 745.2,96.6 747.0,97.1 748.7,97.5 750.5,98.0 752.2,98.5 754.0,99.0 755.8,99.6 757.5,100.1 759.3,100.7 761.0,101.3 762.8,101.9 764.6,102.5 766.3,103.1 768.1,103.8 769.8,104.5 771.6,105.2 773.3,105.9 775.1,106.7 776.9,107.5 778.6,108.3 780.4,109.2 782.1,110.0 783.9,110.9 785.6,111.9 787.4,112.8 789.2,113.9 790.9,114.9 792.7,116.0 794.4,117.1 796.2,118.3 797.9,119.5 799.7,120.8 801.5,122.1 803.2,123.4 805.0,124.9 806.7,126.3 808.5,127.9 810.2,129.5 812.0,131.2 813.8,132.9 815.5,134.7 817.3,136.6 819.0,138.6 820.8,140.7 822.5,142.9 824.3,145.1 826.1,147.5 827.8,150.0 829.6,152.6 831.3,155.3 833.1,158.2 834.9,161.2 836.6,164.4 838.4,167.7 840.1,171.2 841.9,174.9 843.6,178.8 845.4,182.9 847.2,187.3 848.9,191.8 850.7,196.7 852.4,201.8 854.2,207.2 855.9,213.0 857.7,219.1 859.5,225.5 861.2,232.4 863.0,239.7 864.7,247.4 866.5,255.7 868.2,264.5 870.0,273.9 871.8,283.9 873.5,294.7 875.3,306.1 877.0,318.4 878.8,331.5 880.5,345.6 882.3,360.6 884.1,376.8 885.8,394.1 887.6,412.6 889.3,432.5 891.1,453.8 892.9,476.6 894.6,501.0 896.4,527.0 898.1,554.7 899.9,584.2 901.6,615.4 903.4,648.2 905.2,682.7 906.9,718.5 908.7,755.6 910.4,793.4 912.2,831.7 913.9,869.7 915.7,906.7 917.5,942.1 919.2,974.9 921.0,1004.1 922.7,1028.8 924.5,1048.2 926.2,1061.5 928.8,1069.0 931.5,1061.0 933.3,1047.4 935.0,1027.8 936.8,1002.9 938.5,973.5 940.3,940.7 942.1,905.3 943.8,868.2 945.6,830.3 947.3,792.2 949.1,754.4 950.8,717.5 952.6,681.8 954.4,647.5 956.1,614.8 957.9,583.8 959.6,554.5 961.4,526.9 963.1,501.0 964.9,476.8 966.7,454.1 968.4,432.9 970.2,413.1 971.9,394.6 973.7,377.4 975.5,361.3 977.2,346.3 979.0,332.3 980.7,319.2 982.5,307.0 984.2,295.6 986.0,284.9 987.8,274.9 989.5,265.5 991.3,256.7 993.0,248.4 994.8,240.7 996.5,233.4 998.3,226.5 1000.1,220.1 1001.8,214.0 1003.6,208.3 1005.3,202.8 1007.1,197.7 1008.8,192.9 1010.6,188.3 1012.4,184.0 1014.1,179.9 1015.9,176.0 1017.6,172.3 1019.4,168.7 1021.1,165.4 1022.9,162.2 1024.7,159.2 1026.4,156.3 1028.2,153.6 1029.9,151.0 1031.7,148.5 1033.5,146.1 1035.2,143.8 1037.0,141.6 1038.7,139.5 1040.5,137.5 1042.2,135.6 1044.0,133.8 1045.8,132.1 1047.5,130.4 1049.3,128.8 1051.0,127.2 1052.8,125.7 1054.5,124.3 1056.3,122.9 1058.1,121.6 1059.8,120.3 1061.6,119.1 1063.3,117.9 1065.1,116.8 1066.8,115.7 1068.6,114.6 1070.4,113.6 1072.1,112.7 1073.9,111.7 1075.6,110.8 1077.4,109.9 1079.1,109.1 1080.9,108.2 1082.7,107.4 1084.4,106.7 1086.2,105.9 1087.9,105.2 1089.7,104.5 1091.4,103.8 1093.2,103.2 1095.0,102.6 1096.7,101.9 1098.5,101.4 1100.2,100.8 1102.0,100.2 1103.8,99.7 1105.5,99.2 1107.3,98.7 1109.0,98.2 1110.8,97.7 1112.5,97.2 1114.3,96.8 1116.1,96.3 1117.8,95.9 1119.6,95.5 1121.3,95.1 1123.1,94.7 1124.8,94.3 1126.6,94.0 1128.4,93.6 1130.1,93.3 1131.9,92.9 1133.6,92.6 1135.4,92.3 1137.1,92.0 1138.9,91.7 1140.7,91.4 1142.4,91.1 1144.2,90.9 1145.9,90.6 1147.7,90.3 1149.4,90.1 1151.2,89.8 1153.0,89.6 1154.7,89.4 1156.5,89.1 1158.2,88.9 1160.0,88.7 1161.7,88.5 1163.5,88.3 1165.3,88.1 1167.0,87.9 1168.8,87.8 1170.5,87.6 1172.3,87.4 1174.0,87.2 1175.8,87.1 1177.6,86.9 1179.3,86.8 1181.1,86.6 1182.8,86.5 1184.6,86.3 1186.4,86.2 1188.1,86.1 1189.9,85.9 1191.6,85.8 1193.4,85.7 1195.1,85.6 1196.9,85.5 1198.7,85.4 1200.4,85.3 1202.2,85.2 1203.9,85.1 1205.7,85.0 1207.4,84.9 1209.2,84.8 1211.0,84.7 1212.7,84.7 1214.5,84.6 1216.2,84.5 1218.0,84.5 1219.7,84.4 1221.5,84.3 1223.3,84.3 1225.0,84.2 1226.8,84.2 1228.5,84.1 1230.3,84.1 1232.0,84.0 1233.8,84.0 1235.6,84.0 1237.3,83.9 1239.1,83.9 1240.8,83.9 1242.6,83.8 1244.3,83.8 1246.1,83.8 1247.9,83.8 1249.6,83.8 1251.4,83.8 1253.1,83.7 1254.9,83.7 1256.7,83.7 1258.4,83.7 1260.2,83.7 1261.9,83.8 1263.7,83.8 1265.4,83.8 1267.2,83.8 1269.0,83.8 1270.7,83.8 1272.5,83.9 1274.2,83.9 1276.0,83.9 1277.7,83.9 1279.5,84.0 1281.3,84.0 1283.0,84.1 1284.8,84.1 1286.5,84.1 1288.3,84.2 1290.0,84.2 1291.8,84.3 1293.6,84.4 1295.3,84.4 1297.1,84.5 1298.8,84.6 1300.6,84.6 1302.3,84.7 1304.1,84.8 1305.9,84.9 1307.6,84.9 1309.4,85.0 1311.1,85.1 1312.9,85.2 1314.7,85.3 1316.4,85.4 1318.2,85.5 1319.9,85.6 1321.7,85.8 1323.4,85.9 1325.2,86.0 1327.0,86.1 1328.7,86.2 1330.5,86.4 1332.2,86.5 1334.0,86.7 1335.7,86.8 1337.5,87.0 1339.3,87.1 1341.0,87.3 1342.8,87.4 1344.5,87.6 1346.3,87.8 1348.0,88.0 1349.8,88.2 1351.6,88.3 1353.3,88.5 1355.1,88.8 1356.8,89.0 1358.6,89.2 1360.3,89.4 1362.1,89.6 1363.9,89.9 1365.6,90.1 1367.4,90.3 1369.1,90.6 1370.9,90.9 1372.6,91.1 1374.4,91.4 1376.2,91.7 1377.9,92.0 1379.7,92.3 1381.4,92.6 1383.2,92.9 1385.0,93.2 1386.7,93.6 1388.5,93.9 1390.2,94.3 1392.0,94.6 1393.7,95.0 1395.5,95.4 1397.3,95.8 1399.0,96.2 1400.8,96.6 1402.5,97.1 1404.3,97.5 1406.0,98.0 1407.8,98.5 1409.6,99.0 1411.3,99.5 1413.1,100.0 1414.8,100.5 1416.6,101.1 1418.3,101.6 1420.1,102.2 1421.9,102.8 1423.6,103.5 1425.4,104.1 1427.1,104.8 1428.9,105.4 1430.6,106.2 1432.4,106.9 1434.2,107.6 1435.9,108.4 1437.7,109.2 1439.4,110.1 1441.2,110.9 1442.9,111.8 1444.7,112.8 1446.5,113.7 1448.2,114.7 1450.0,115.7 1451.7,116.8 1453.5,117.9 1455.2,119.0 1457.0,120.2 1458.8,121.5 1460.5,122.7 1462.3,124.1 1464.0,125.4 1465.8,126.9 1467.6,128.4 1469.3,129.9 1471.1,131.5 1472.8,133.2 1474.6,134.9 1476.3,136.8 1478.1,138.6 1479.9,140.6 1481.6,142.7 1483.4,144.8 1485.1,147.1 1486.9,149.4 1488.6,151.9 1490.4,154.5 1492.2,157.2 1493.9,160.0 1495.7,163.0 1497.4,166.1 1499.2,169.3 1500.9,172.7 1502.7,176.3 1504.5,180.1 1506.2,184.1 1508.0,188.3 1509.7,192.7 1511.5,197.3 1513.2,202.2 1515.0,207.4 1516.8,212.9 1518.5,218.7 1520.3,224.8 1522.0,231.3 1523.8,238.2 1525.5,245.5 1527.3,253.2 1529.1,261.4 1530.8,270.2 1532.6,279.5 1534.3,289.4 1536.1,299.9 1537.9,311.2 1539.6,323.2 1541.4,336.0 1543.1,349.7 1544.9,364.3 1546.6,379.9 1548.4,396.6 1550.2,414.4 1551.9,433.5 1553.7,453.8 1555.4,475.5 1557.2,498.6 1558.9,523.2 1560.7,549.4 1562.5,577.1 1564.2,606.4 1566.0,637.2 1567.7,669.5 1569.5,703.2 1571.2,738.0 1573.0,773.8 1574.8,810.1 1576.5,846.5 1578.3,882.4 1580.0,917.4 1581.8,950.5 1583.5,981.0 1585.3,1008.2 1587.1,1031.1 1588.8,1049.2 1590.6,1061.6 1593.3,1069.0 1595.8,1062.3 1597.6,1050.3 1599.4,1032.7 1601.1,1010.1 1602.9,983.3 1604.6,953.0 1606.4,920.1 1608.2,885.4 1609.9,849.5 1611.7,813.2 1613.4,777.0 1615.2,741.3 1616.9,706.5 1618.7,672.8 1620.5,640.5 1622.2,609.6 1624.0,580.3 1625.7,552.5 1627.5,526.3 1629.2,501.6 1631.0,478.4"/>
<polyline stroke="#ff00ff" points="225.0,459.4 226.8,483.7 228.5,509.8 230.3,537.8 232.0,567.6 233.8,599.3 235.5,632.9 237.3,668.3 239.1,705.3 240.8,743.8 242.6,783.3 244.3,823.3 246.1,863.2 247.8,902.3 249.6,939.5 251.4,974.0 253.1,1004.7 254.9,1030.4 256.6,1050.1 258.4,1063.1 260.6,1069.0 261.9,1066.9 263.7,1057.5 265.4,1041.0 267.2,1018.2 268.9,990.0 270.7,957.4 272.5,921.4 274.2,883.2 276.0,843.7 277.7,803.7 279.5,764.0 281.2,725.1 283.0,687.4 284.8,651.3 286.5,616.8 288.3,584.2 290.0,553.5 291.8,524.7 293.5,497.8 295.3,472.6 297.1,449.1 298.8,427.3 300.6,407.0 302.3,388.1 304.1,370.5 305.8,354.1 307.6,338.9 309.4,324.8 311.1,311.6 312.9,299.3 314.6,287.9 316.4,277.2 318.1,267.2 319.9,257.9 321.7,249.2 323.4,241.0 325.2,233.4 326.9,226.2 328.7,219.5 330.4,213.1 332.2,207.2 334.0,201.6 335.7,196.3 337.5,191.3 339.2,186.6 341.0,182.2 342.8,178.0 344.5,174.0 346.3,170.2 348.0,166.6 349.8,163.2 351.5,160.0 353.3,157.0 355.1,154.1 356.8,151.3 358.6,148.7 360.3,146.2 362.1,143.8 363.8,141.5 365.6,139.3 367.4,137.2 369.1,135.3 370.9,133.4 372.6,131.5 374.4,129.8 376.1,128.1 377.9,126.5 379.7,125.0 381.4,123.5 383.2,122.1 384.9,120.8 386.7,119.5 388.4,118.2 390.2,117.0 392.0,115.9 393.7,114.8 395.5,113.7 397.2,112.7 399.0,111.7 400.8,110.7 402.5,109.8 404.3,108.9 406.0,108.1 407.8,107.2 409.5,106.4 411.3,105.7 413.1,104.9 414.8,104.2 416.6,103.5 418.3,102.8 420.1,102.2 421.8,101.6 423.6,100.9 425.4,100.4 427.1,99.8 428.9,99.2 430.6,98.7 432.4,98.2 434.1,97.7 435.9,97.2 437.7,96.7 439.4,96.3 441.2,95.8 442.9,95.4 444.7,95.0 446.4,94.6 448.2,94.2 450.0,93.8 451.7,93.5 453.5,93.1 455.2,92.8 457.0,92.4 458.7,92.1 460.5,91.8 462.3,91.5 464.0,91.2 465.8,90.9 467.5,90.6 469.3,90.3 471.1,90.1 472.8,89.8 474.6,89.6 476.3,89.3 478.1,89.1 479.8,88.9 481.6,88.7 483.4,88.4 485.1,88.2 486.9,88.0 488.6,87.8 490.4,87.7 492.1,87.5 493.9,87.3 495.7,87.1 497.4,87.0 499.2,86.8 500.9,86.6 502.7,86.5 504.4,86.3 506.2,86.2 508.0,86.1 509.7,85.9 511.5,85.8 513.2,85.7 515.0,85.6 516.7,85.5 518.5,85.3 520.3,85.2 522.0,85.1 523.8,85.0 525.5,84.9 527.3,84.9 529.0,84.8 530.8,84.7 532.6,84.6 534.3,84.5 536.1,84.5 537.8,84.4 539.6,84.3 541.4,84.3 543.1,84.2 544.9,84.2 546.6,84.1 548.4,84.1 550.1,84.0 551.9,84.0 553.7,83.9 555.4,83.9 557.2,83.9 558.9,83.9 560.7,83.8 562.4,83.8 564.2,83.8 566.0,83.8 567.7,83.8 569.5,83.8 571.2,83.7 573.0,83.7 574.7,83.7 576.5,83.7 578.3,83.8 580.0,83.8 581.8,83.8 583.5,83.8 585.3,83.8 587.0,83.8 588.8,83.9 590.6,83.9 592.3,83.9 594.1,84.0 595.8,84.0 597.6,84.0 599.3,84.1 601.1,84.1 602.9,84.2 604.6,84.2 606.4,84.3 608.1,84.3 609.9,84.4 611.6,84.5 613.4,84.6 615.2,84.6 616.9,84.7 618.7,84.8 620.4,84.9 622.2,85.0 624.0,85.1 625.7,85.2 627.5,85.3 629.2,85.4 631.0,85.5 632.7,85.6 634.5,85.7 636.3,85.8 638.0,85.9 639.8,86.1 641.5,86.2 643.3,86.4 645.0,86.5 646.8,86.6 648.6,86.8 650.3,87.0 652.1,87.1 653.8,87.3 655.6,87.5 657.3,87.6 659.1,87.8 660.9,88.0 662.6,88.2 664.4,88.4 666.1,88.6 667.9,88.9 669.6,89.1 671.4,89.3 673.2,89.5 674.9,89.8 676.7,90.0 678.4,90.3 680.2,90.6 682.0,90.8 683.7,91.1 685.5,91.4 687.2,91.7 689.0,92.0 690.7,92.3 692.5,92.6 694.3,93.0 696.0,93.3 697.8,93.7 699.5,94.1 701.3,94.4 703.0,94.8 704.8,95.2 706.6,95.6 708.3,96.1 710.1,96.5 711.8,96.9 713.6,97.4 715.3,97.9 717.1,98.4 718.9,98.9 720.6,99.4 722.4,100.0 724.1,100.5 725.9,101.1 727.6,101.7 729.4,102.3 731.2,103.0 732.9,103.6 734.7,104.3 736.4,105.0 738.2,105.8 739.9,106.5 741.7,107.3 743.5,108.1 745.2,108.9 747.0,109.8 748.7,110.7 750.5,111.6 752.2,112.6 754.0,113.6 755.8,114.6 757.5,115.7 759.3,116.8 761.0,118.0 762.8,119.2 764.6,120.4 766.3,121.7 768.1,123.1 769.8,124.5 771.6,126.0 773.3,127.5 775.1,129.1 776.9,130.7 778.6,132.5 780.4,134.3 782.1,136.1 783.9,138.1 785.6,140.2 787.4,142.3 789.2,144.6 790.9,146.9 792.7,149.4 794.4,151.9 796.2,154.6 797.9,157.5 799.7,160.5 801.5,163.6 803.2,166.9 805.0,170.4 806.7,174.0 808.5,177.8 810.2,181.9 812.0,186.2 813.8,190.7 815.5,195.5 817.3,200.5 819.0,205.8 820.8,211.5 822.5,217.5 824.3,223.9 826.1,230.6 827.8,237.8 829.6,245.4 831.3,253.6 833.1,262.3 834.9,271.5 836.6,281.4 838.4,291.9 840.1,303.2 841.9,315.2 843.6,328.1 845.4,342.0 847.2,356.8 848.9,372.6 850.7,389.6 852.4,407.9 854.2,427.4 855.9,448.3 857.7,470.8 859.5,494.7 861.2,520.3 863.0,547.6 864.7,576.7 866.5,607.4 868.2,639.9 870.0,673.9 871.8,709.5 873.5,746.2 875.3,783.9 877.0,822.1 878.8,860.2 880.5,897.6 882.3,933.5 884.1,967.0 885.8,997.2 887.6,1023.1 889.3,1043.9 891.1,1058.8 892.9,1067.2 894.1,1069.0 896.4,1063.4 898.1,1051.4 899.9,1033.2 901.6,1009.6 903.4,981.2 905.2,949.2 906.9,914.3 908.7,877.6 910.4,839.8 912.2,801.7 913.9,763.8 915.7,726.7 917.5,690.6 919.2,656.0 921.0,622.9 922.7,591.4 924.5,561.7 926.2,533.7 928.0,507.3 929.8,482.7 931.5,459.6 933.3,438.0 935.0,417.9 936.8,399.1 938.5,381.6 940.3,365.2 942.1,349.9 943.8,335.7 945.6,322.4 947.3,310.0 949.1,298.3 950.8,287.5 952.6,277.3 954.4,267.8 956.1,258.8 957.9,250.4 959.6,242.6 961.4,235.2 963.1,228.2 964.9,221.7 966.7,215.5 968.4,209.7 970.2,204.2 971.9,199.0 973.7,194.1 975.5,189.4 977.2,185.0 979.0,180.9 980.7,176.9 982.5,173.2 984.2,169.6 986.0,166.2 987.8,163.0 989.5,159.9 991.3,157.0 993.0,154.3 994.8,151.6 996.5,149.1 998.3,146.7 1000.1,144.4 1001.8,142.2 1003.6,140.1 1005.3,138.0 1007.1,136.1 1008.8,134.3 1010.6,132.5 1012.4,130.8 1014.1,129.2 1015.9,127.6 1017.6,126.1 1019.4,124.6 1021.1,123.3 1022.9,121.9 1024.7,120.6 1026.4,119.4 1028.2,118.2 1029.9,117.1 1031.7,116.0 1033.5,114.9 1035.2,113.9 1037.0,112.9 1038.7,111.9 1040.5,111.0 1042.2,110.1 1044.0,109.3 1045.8,108.4 1047.5,107.6 1049.3,106.9 1051.0,106.1 1052.8,105.4 1054.5,104.7 1056.3,104.0 1058.1,103.3 1059.8,102.7 1061.6,102.1 1063.3,101.5 1065.1,100.9 1066.8,100.4 1068.6,99.8 1070.4,99.3 1072.1,98.8 1073.9,98.3 1075.6,97.8 1077.4,97.3 1079.1,96.9 1080.9,96.4 1082.7,96.0 1084.4,95.6 1086.2,95.2 1087.9,94.8 1089.7,94.4 1091.4,94.1 1093.2,93.7 1095.0,93.4 1096.7,93.0 1098.5,92.7 1100.2,92.4 1102.0,92.1 1103.8,91.8 1105.5,91.5 1107.3,91.2 1109.0,90.9 1110.8,90.7 1112.5,90.4 1114.3,90.1 1116.1,89.9 1117.8,89.7 1119.6,89.4 1121.3,89.2 1123.1,89.0 1124.8,88.8 1126.6,88.6 1128.4,88.4 1130.1,88.2 1131.9,88.0 1133.6,87.8 1135.4,87.6 1137.1,87.4 1138.9,87.3 1140.7,87.1 1142.4,87.0 1144.2,86.8 1145.9,86.7 1147.7,86.5 1149.4,86.4 1151.2,86.2 1153.0,86.1 1154.7,86.0 1156.5,85.9 1158.2,85.7 1160.0,85.6 1161.7,85.5 1163.5,85.4 1165.3,85.3 1167.0,85.2 1168.8,85.1 1170.5,85.0 1172.3,84.9 1174.0,84.8 1175.8,84.8 1177.6,84.7 1179.3,84.6 1181.1,84.5 1182.8,84.5 1184.6,84.4 1186.4,84.3 1188.1,84.3 1189.9,84.2 1191.6,84.2 1193.4,84.1 1195.1,84.1 1196.9,84.0 1198.7,84.0 1200.4,84.0 1202.2,83.9 1203.9,83.9 1205.7,83.9 1207.4,83.8 1209.2,83.8 1211.0,83.8 1212.7,83.8 1214.5,83.8 1216.2,83.8 1218.0,83.8 1219.7,83.7 1221.5,83.7 1223.3,83.7 1225.0,83.7 1226.8,83.8 1228.5,83.8 1230.3,83.8 1232.0,83.8 1233.8,83.8 1235.6,83.8 1237.3,83.8 1239.1,83.9 1240.8,83.9 1242.6,83.9 1244.3,84.0 1246.1,84.0 1247.9,84.0 1249.6,84.1 1251.4,84.1 1253.1,84.2 1254.9,84.2 1256.7,84.3 1258.4,84.3 1260.2,84.4 1261.9,84.5 1263.7,84.5 1265.4,84.6 1267.2,84.7 1269.0,84.8 1270.7,84.8 1272.5,84.9 1274.2,85.0 1276.0,85.1 1277.7,85.2 1279.5,85.3 1281.3,85.4 1283.0,85.5 1284.8,85.6 1286.5,85.7 1288.3,85.8 1290.0,86.0 1291.8,86.1 1293.6,86.2 1295.3,86.3 1297.1,86.5 1298.8,86.6 1300.6,86.8 1302.3,86.9 1304.1,87.1 1305.9,87.2 1307.6,87.4 1309.4,87.6 1311.1,87.7 1312.9,87.9 1314.7,88.1 1316.4,88.3 1318.2,88.5 1319.9,88.7 1321.7,88.9 1323.4,89.1 1325.2,89.3 1327.0,89.6 1328.7,89.8 1330.5,90.0 1332.2,90.3 1334.0,90.5 1335.7,90.8 1337.5,91.1 1339.3,91.3 1341.0,91.6 1342.8,91.9 1344.5,92.2 1346.3,92.5 1348.0,92.8 1349.8,93.2 1351.6,93.5 1353.3,93.8 1355.1,94.2 1356.8,94.6 1358.6,94.9 1360.3,95.3 1362.1,95.7 1363.9,96.1 1365.6,96.5 1367.4,97.0 1369.1,97.4 1370.9,97.9 1372.6,98.3 1374.4,98.8 1376.2,99.3 1377.9,99.8 1379.7,100.4 1381.4,100.9 1383.2,101.5 1385.0,102.1 1386.7,102.7 1388.5,103.3 1390.2,103.9 1392.0,104.6 1393.7,105.3 1395.5,106.0 1397.3,106.7 1399.0,107.5 1400.8,108.2 1402.5,109.0 1404.3,109.9 1406.0,110.7 1407.8,111.6 1409.6,112.5 1411.3,113.5 1413.1,114.5 1414.8,115.5 1416.6,116.5 1418.3,117.6 1420.1,118.7 1421.9,119.9 1423.6,121.1 1425.4,122.4 1427.1,123.7 1428.9,125.1 1430.6,126.5 1432.4,128.0 1434.2,129.5 1435.9,131.1 1437.7,132.8 1439.4,134.5 1441.2,136.3 1442.9,138.2 1444.7,140.1 1446.5,142.2 1448.2,144.3 1450.0,146.5 1451.7,148.8 1453.5,151.3 1455.2,153.8 1457.0,156.5 1458.8,159.3 1460.5,162.2 1462.3,165.3 1464.0,168.5 1465.8,171.9 1467.6,175.4 1469.3,179.1 1471.1,183.1 1472.8,187.2 1474.6,191.5 1476.3,196.1 1478.1,201.0 1479.9,206.1 1481.6,211.5 1483.4,217.2 1485.1,223.2 1486.9,229.6 1488.6,236.4 1490.4,243.6 1492.2,251.2 1493.9,259.3 1495.7,267.9 1497.4,277.1 1499.2,286.9 1500.9,297.2 1502.7,308.3 1504.5,320.1 1506.2,332.7 1508.0,346.2 1509.7,360.6 1511.5,375.9 1513.2,392.3 1515.0,409.8 1516.8,428.6 1518.5,448.6 1520.3,469.9 1522.0,492.7 1523.8,516.9 1525.5,542.7 1527.3,570.0 1529.1,598.9 1530.8,629.4 1532.6,661.3 1534.3,694.7 1536.1,729.2 1537.9,764.8 1539.6,801.0 1541.4,837.4 1543.1,873.5 1544.9,908.8 1546.6,942.4 1548.4,973.7 1550.2,1001.8 1551.9,1025.8 1553.7,1045.2 1555.4,1059.1 1557.2,1067.1 1558.6,1069.0 1560.7,1064.4 1562.5,1053.8 1564.2,1037.6 1566.0,1016.2 1567.7,990.3 1569.5,960.8 1571.2,928.5 1573.0,894.2 1574.8,858.6 1576.5,822.3 1578.3,786.0 1580.0,750.2 1581.8,715.1 1583.5,681.1 1585.3,648.4 1587.1,617.2 1588.8,587.5 1590.6,559.3 1592.3,532.7 1594.1,507.6 1595.8,484.1 1597.6,462.0 1599.4,441.2 1601.1,421.8 1602.9,403.6 1604.6,386.6 1606.4,370.7 1608.2,355.8 1609.9,341.8 1611.7,328.7 1613.4,316.4 1615.2,305.0 1616.9,294.2 1618.7,284.1 1620.5,274.6 1622.2,265.6 1624.0,257.2 1625.7,249.3 1627.5,241.9 1629.2,234.8 1631.0,228.2"/>
<polyline stroke="#008000" points="225.0,1068.4 226.8,1067.6 228.5,1059.4 230.3,1043.9 232.0,1022.0 233.8,994.5 235.5,962.5 237.3,927.0 239.1,889.0 240.8,849.7 242.6,809.7 244.3,769.9 246.1,730.9 247.8,693.0 249.6,656.6 251.4,621.9 253.1,589.0 254.9,558.0 256.6,528.9 258.4,501.7 260.1,476.3 261.9,452.5 263.7,430.5 265.4,409.9 267.2,390.8 268.9,373.0 270.7,356.5 272.5,341.1 274.2,326.8 276.0,313.5 277.7,301.1 279.5,289.6 281.2,278.8 283.0,268.7 284.8,259.3 286.5,250.5 288.3,242.2 290.0,234.5 291.8,227.3 293.5,220.5 295.3,214.1 297.1,208.1 298.8,202.4 300.6,197.1 302.3,192.0 304.1,187.3 305.8,182.8 307.6,178.6 309.4,174.6 311.1,170.8 312.9,167.2 314.6,163.7 316.4,160.5 318.1,157.4 319.9,154.5 321.7,151.7 323.4,149.1 325.2,146.5 326.9,144.1 328.7,141.8 330.4,139.6 332.2,137.5 334.0,135.5 335.7,133.6 337.5,131.8 339.2,130.1 341.0,128.4 342.8,126.8 344.5,125.2 346.3,123.8 348.0,122.3 349.8,121.0 351.5,119.7 353.3,118.4 355.1,117.2 356.8,116.0 358.6,114.9 360.3,113.9 362.1,112.8 363.8,111.8 365.6,110.9 367.4,109.9 369.1,109.0 370.9,108.2 372.6,107.3 374.4,106.5 376.1,105.8 377.9,105.0 379.7,104.3 381.4,103.6 383.2,102.9 384.9,102.3 386.7,101.6 388.4,101.0 390.2,100.4 392.0,99.9 393.7,99.3 395.5,98.8 397.2,98.3 399.0,97.8 400.8,97.3 402.5,96.8 404.3,96.3 406.0,95.9 407.8,95.5 409.5,95.1 411.3,94.7 413.1,94.3 414.8,93.9 416.6,93.5 418.3,93.2 420.1,92.8 421.8,92.5 423.6,92.1 425.4,91.8 427.1,91.5 428.9,91.2 430.6,90.9 432.4,90.7 434.1,90.4 435.9,90.1 437.7,89.9 439.4,89.6 441.2,89.4 442.9,89.1 444.7,88.9 446.4,88.7 448.2,88.5 450.0,88.3 451.7,88.1 453.5,87.9 455.2,87.7 457.0,87.5 458.7,87.3 460.5,87.1 462.3,87.0 464.0,86.8 465.8,86.7 467.5,86.5 469.3,86.4 471.1,86.2 472.8,86.1 474.6,86.0 476.3,85.8 478.1,85.7 479.8,85.6 481.6,85.5 483.4,85.4 485.1,85.3 486.9,85.2 488.6,85.1 490.4,85.0 492.1,84.9 493.9,84.8 495.7,84.7 497.4,84.6 499.2,84.5 500.9,84.5 502.7,84.4 504.4,84.3 506.2,84.3 508.0,84.2 509.7,84.2 511.5,84.1 513.2,84.1 515.0,84.0 516.7,84.0 518.5,83.9 520.3,83.9 522.0,83.9 523.8,83.9 525.5,83.8 527.3,83.8 529.0,83.8 530.8,83.8 532.6,83.8 534.3,83.8 536.1,83.7 537.8,83.7 539.6,83.7 541.4,83.7 543.1,83.8 544.9,83.8 546.6,83.8 548.4,83.8 550.1,83.8 551.9,83.8 553.7,83.9 555.4,83.9 557.2,83.9 558.9,83.9 560.7,84.0 562.4,84.0 564.2,84.1 566.0,84.1 567.7,84.2 569.5,84.2 571.2,84.3 573.0,84.3 574.7,84.4 576.5,84.5 578.3,84.5 580.0,84.6 581.8,84.7 583.5,84.8 585.3,84.9 587.0,84.9 588.8,85.0 590.6,85.1 592.3,85.2 594.1,85.3 595.8,85.5 597.6,85.6 599.3,85.7 601.1,85.8 602.9,85.9 604.6,86.1 606.4,86.2 608.1,86.3 609.9,86.5 611.6,86.6 613.4,86.8 615.2,86.9 616.9,87.1 618.7,87.3 620.4,87.4 622.2,87.6 624.0,87.8 625.7,88.0 627.5,88.2 629.2,88.4 631.0,88.6 632.7,88.8 634.5,89.0 636.3,89.3 638.0,89.5 639.8,89.7 641.5,90.0 643.3,90.3 645.0,90.5 646.8,90.8 648.6,91.1 650.3,91.4 652.1,91.7 653.8,92.0 655.6,92.3 657.3,92.6 659.1,92.9 660.9,93.3 662.6,93.6 664.4,94.0 666.1,94.4 667.9,94.8 669.6,95.2 671.4,95.6 673.2,96.0 674.9,96.4 676.7,96.9 678.4,97.3 680.2,97.8 682.0,98.3 683.7,98.8 685.5,99.4 687.2,99.9 689.0,100.5 690.7,101.0 692.5,101.6 694.3,102.2 696.0,102.9 697.8,103.5 699.5,104.2 701.3,104.9 703.0,105.6 704.8,106.4 706.6,107.2 708.3,108.0 710.1,108.8 711.8,109.7 713.6,110.6 715.3,111.5 717.1,112.5 718.9,113.4 720.6,114.5 722.4,115.5 724.1,116.7 725.9,117.8 727.6,119.0 729.4,120.3 731.2,121.5 732.9,122.9 734.7,124.3 736.4,125.7 738.2,127.3 739.9,128.8 741.7,130.5 743.5,132.2 745.2,134.0 747.0,135.9 748.7,137.8 750.5,139.8 752.2,142.0 754.0,144.2 755.8,146.5 757.5,149.0 759.3,151.5 761.0,154.2 762.8,157.1 764.6,160.0 766.3,163.1 768.1,166.4 769.8,169.8 771.6,173.4 773.3,177.3 775.1,181.3 776.9,185.5 778.6,190.0 780.4,194.7 782.1,199.7 783.9,205.0 785.6,210.6 787.4,216.6 789.2,222.9 790.9,229.6 792.7,236.7 794.4,244.3 796.2,252.3 797.9,260.9 799.7,270.1 801.5,279.9 803.2,290.3 805.0,301.4 806.7,313.4 808.5,326.1 810.2,339.8 812.0,354.5 813.8,370.2 815.5,387.0 817.3,405.0 819.0,424.4 820.8,445.1 822.5,467.3 824.3,491.0 826.1,516.4 827.8,543.4 829.6,572.2 831.3,602.7 833.1,634.9 834.9,668.7 836.6,704.0 838.4,740.6 840.1,778.2 841.9,816.4 843.6,854.5 845.4,892.1 847.2,928.2 848.9,962.1 850.7,992.9 852.4,1019.5 854.2,1041.1 855.9,1057.0 857.7,1066.3 859.2,1069.0 861.2,1064.6 863.0,1053.6 864.7,1036.3 866.5,1013.4 868.2,985.7 870.0,954.2 871.8,919.7 873.5,883.2 875.3,845.5 877.0,807.4 878.8,769.4 880.5,732.2 882.3,696.0 884.1,661.1 885.8,627.7 887.6,596.0 889.3,566.0 891.1,537.7 892.9,511.2 894.6,486.3 896.4,463.0 898.1,441.2 899.9,420.8 901.6,401.8 903.4,384.1 905.2,367.6 906.9,352.2 908.7,337.8 910.4,324.3 912.2,311.8 913.9,300.0 915.7,289.1 917.5,278.8 919.2,269.2 921.0,260.1 922.7,251.7 924.5,243.7 926.2,236.3 928.0,229.2 929.8,222.6 931.5,216.4 933.3,210.5 935.0,205.0 936.8,199.7 938.5,194.8 940.3,190.1 942.1,185.7 943.8,181.5 945.6,177.5 947.3,173.7 949.1,170.1 950.8,166.7 952.6,163.5 954.4,160.4 956.1,157.5 957.9,154.7 959.6,152.0 961.4,149.5 963.1,147.0 964.9,144.7 966.7,142.5 968.4,140.4 970.2,138.3 971.9,136.4 973.7,134.5 975.5,132.7 977.2,131.0 979.0,129.4 980.7,127.8 982.5,126.3 984.2,124.9 986.0,123.5 987.8,122.1 989.5,120.8 991.3,119.6 993.0,118.4 994.8,117.2 996.5,116.1 998.3,115.1 1000.1,114.0 1001.8,113.0 1003.6,112.1 1005.3,111.2 1007.1,110.3 1008.8,109.4 1010.6,108.6 1012.4,107.8 1014.1,107.0 1015.9,106.2 1017.6,105.5 1019.4,104.8 1021.1,104.1 1022.9,103.4 1024.7,102.8 1026.4,102.2 1028.2,101.6 1029.9,101.0 1031.7,100.4 1033.5,99.9 1035.2,99.4 1037.0,98.9 1038.7,98.4 1040.5,97.9 1042.2,97.4 1044.0,97.0 1045.8,96.5 1047.5,96.1 1049.3,95.7 1051.0,95.3 1052.8,94.9 1054.5,94.5 1056.3,94.1 1058.1,93.8 1059.8,93.4 1061.6,93.1 1063.3,92.8 1065.1,92.4 1066.8,92.1 1068.6,91.8 1070.4,91.5 1072.1,91.2 1073.9,91.0 1075.6,90.7 1077.4,90.4 1079.1,90.2 1080.9,89.9 1082.7,89.7 1084.4,89.5 1086.2,89.2 1087.9,89.0 1089.7,88.8 1091.4,88.6 1093.2,88.4 1095.0,88.2 1096.7,88.0 1098.5,87.8 1100.2,87.6 1102.0,87.5 1103.8,87.3 1105.5,87.1 1107.3,87.0 1109.0,86.8 1110.8,86.7 1112.5,86.5 1114.3,86.4 1116.1,86.3 1117.8,86.1 1119.6,86.0 1121.3,85.9 1123.1,85.8 1124.8,85.6 1126.6,85.5 1128.4,85.4 1130.1,85.3 1131.9,85.2 1133.6,85.1 1135.4,85.0 1137.1,84.9 1138.9,84.9 1140.7,84.8 1142.4,84.7 1144.2,84.6 1145.9,84.5 1147.7,84.5 1149.4,84.4 1151.2,84.4 1153.0,84.3 1154.7,84.2 1156.5,84.2 1158.2,84.1 1160.0,84.1 1161.7,84.0 1163.5,84.0 1165.3,84.0 1167.0,83.9 1168.8,83.9 1170.5,83.9 1172.3,83.8 1174.0,83.8 1175.8,83.8 1177.6,83.8 1179.3,83.8 1181.1,83.8 1182.8,83.8 1184.6,83.7 1186.4,83.7 1188.1,83.7 1189.9,83.7 1191.6,83.8 1193.4,83.8 1195.1,83.8 1196.9,83.8 1198.7,83.8 1200.4,83.8 1202.2,83.8 1203.9,83.9 1205.7,83.9 1207.4,83.9 1209.2,84.0 1211.0,84.0 1212.7,84.0 1214.5,84.1 1216.2,84.1 1218.0,84.2 1219.7,84.2 1221.5,84.3 1223.3,84.3 1225.0,84.4 1226.8,84.5 1228.5,84.5 1230.3,84.6 1232.0,84.7 1233.8,84.7 1235.6,84.8 1237.3,84.9 1239.1,85.0 1240.8,85.1 1242.6,85.2 1244.3,85.3 1246.1,85.4 1247.9,85.5 1249.6,85.6 1251.4,85.7 1253.1,85.8 1254.9,85.9 1256.7,86.1 1258.4,86.2 1260.2,86.3 1261.9,86.5 1263.7,86.6 1265.4,86.7 1267.2,86.9 1269.0,87.1 1270.7,87.2 1272.5,87.4 1274.2,87.5 1276.0,87.7 1277.7,87.9 1279.5,88.1 1281.3,88.3 1283.0,88.5 1284.8,88.7 1286.5,88.9 1288.3,89.1 1290.0,89.3 1291.8,89.5 1293.6,89.8 1295.3,90.0 1297.1,90.2 1298.8,90.5 1300.6,90.8 1302.3,91.0 1304.1,91.3 1305.9,91.6 1307.6,91.9 1309.4,92.2 1311.1,92.5 1312.9,92.8 1314.7,93.1 1316.4,93.4 1318.2,93.8 1319.9,94.1 1321.7,94.5 1323.4,94.9 1325.2,95.3 1327.0,95.6 1328.7,96.1 1330.5,96.5 1332.2,96.9 1334.0,97.3 1335.7,97.8 1337.5,98.3 1339.3,98.8 1341.0,99.3 1342.8,99.8 1344.5,100.3 1346.3,100.8 1348.0,101.4 1349.8,102.0 1351.6,102.6 1353.3,103.2 1355.1,103.8 1356.8,104.5 1358.6,105.2 1360.3,105.9 1362.1,106.6 1363.9,107.3 1365.6,108.1 1367.4,108.9 1369.1,109.7 1370.9,110.6 1372.6,111.5 1374.4,112.4 1376.2,113.3 1377.9,114.3 1379.7,115.3 1381.4,116.4 1383.2,117.5 1385.0,118.6 1386.7,119.7 1388.5,121.0 1390.2,122.2 1392.0,123.5 1393.7,124.9 1395.5,126.3 1397.3,127.8 1399.0,129.3 1400.8,130.9 1402.5,132.5 1404.3,134.2 1406.0,136.0 1407.8,137.9 1409.6,139.8 1411.3,141.9 1413.1,144.0 1414.8,146.2 1416.6,148.5 1418.3,150.9 1420.1,153.4 1421.9,156.1 1423.6,158.9 1425.4,161.8 1427.1,164.8 1428.9,168.0 1430.6,171.3 1432.4,174.9 1434.2,178.6 1435.9,182.5 1437.7,186.6 1439.4,190.9 1441.2,195.4 1442.9,200.2 1444.7,205.3 1446.5,210.7 1448.2,216.3 1450.0,222.3 1451.7,228.6 1453.5,235.4 1455.2,242.5 1457.0,250.0 1458.8,258.1 1460.5,266.6 1462.3,275.7 1464.0,285.3 1465.8,295.6 1467.6,306.6 1469.3,318.3 1471.1,330.8 1472.8,344.1 1474.6,358.3 1476.3,373.5 1478.1,389.8 1479.9,407.1 1481.6,425.7 1483.4,445.5 1485.1,466.6 1486.9,489.2 1488.6,513.2 1490.4,538.7 1492.2,565.8 1493.9,594.5 1495.7,624.7 1497.4,656.4 1499.2,689.6 1500.9,724.0 1502.7,759.4 1504.5,795.5 1506.2,831.9 1508.0,868.1 1509.7,903.6 1511.5,937.5 1513.2,969.2 1515.0,997.8 1516.8,1022.5 1518.5,1042.6 1520.3,1057.3 1522.0,1066.2 1523.7,1069.0 1525.5,1065.5 1527.3,1055.8 1529.1,1040.3 1530.8,1019.7 1532.6,994.4 1534.3,965.5 1536.1,933.5 1537.9,899.4 1539.6,864.0 1541.4,827.8 1543.1,791.4 1544.9,755.5 1546.6,720.3 1548.4,686.1 1550.2,653.2 1551.9,621.8 1553.7,591.8 1555.4,563.4 1557.2,536.6 1558.9,511.3 1560.7,487.5 1562.5,465.2 1564.2,444.3 1566.0,424.7 1567.7,406.3 1569.5,389.1 1571.2,373.0 1573.0,357.9 1574.8,343.8 1576.5,330.6 1578.3,318.2 1580.0,306.6 1581.8,295.7 1583.5,285.5 1585.3,275.9 1587.1,266.9 1588.8,258.5 1590.6,250.5 1592.3,243.0 1594.1,235.9 1595.8,229.2 1597.6,222.9 1599.4,216.9 1601.1,211.3 1602.9,206.0 1604.6,200.9 1606.4,196.1 1608.2,191.6 1609.9,187.3 1611.7,183.2 1613.4,179.3 1615.2,175.6 1616.9,172.1 1618.7,168.8 1620.5,165.6 1622.2,162.6 1624.0,159.7 1625.7,156.9 1627.5,154.2 1629.2,151.7 1631.0,149.3"/>
</g>
<g id="xticklabels" font-size="74.4" text-anchor="middle">
<text transform="translate(382.4,1256.5) scale(1,1.045)">1520</text>
<text transform="translate(734.4,1256.5) scale(1,1.045)">1540</text>
<text transform="translate(1085.4,1256.5) scale(1,1.045)">1560</text>
<text transform="translate(1437.4,1256.5) scale(1,1.045)">1580</text>
</g>
<g id="yticklabels" font-size="74.4" text-anchor="end">
<text transform="translate(218.2,87.6) scale(1,1.045)">1.0</text>
<text transform="translate(218.2,288.6) scale(1,1.045)">0.8</text>
<text transform="translate(218.2,488.6) scale(1,1.045)">0.6</text>
<text transform="translate(218.2,690.6) scale(1,1.045)">0.4</text>
<text transform="translate(218.2,891.6) scale(1,1.045)">0.2</text>
<text transform="translate(218.2,1093.6) scale(1,1.045)">0.0</text>
</g>
<text id="xlabel" font-size="74.4" text-anchor="middle" transform="translate(955.7,1341.8) scale(1,1.01)">Wavelength (nm)</text>
<text id="ylabel" font-size="74.6475" text-anchor="middle" transform="translate(82,571.5) rotate(-90) scale(1,1.01)">Normalized reflected intensity</text>
<g id="legend">
<rect x="1134" y="612" width="319" height="456" rx="1.5" ry="1.5" fill="#fff" stroke="#000" stroke-width="6" shape-rendering="crispEdges"/>
<line x1="1143" x2="1225" y1="662" y2="662" stroke="#000000" stroke-width="6" shape-rendering="crispEdges"/>
<text font-size="66.4" dx="0 0 0 1.3 1.3" transform="translate(1275,688.4) scale(1,1.025)">160με</text>
<line x1="1143" x2="1225" y1="751" y2="751" stroke="#ff0000" stroke-width="6" shape-rendering="crispEdges"/>
<text font-size="66.4" dx="0 0 1.3 1.3" transform="translate(1275,777.4) scale(1,1.025)">80με</text>
<line x1="1143" x2="1225" y1="840" y2="840" stroke="#0000ff" stroke-width="6" shape-rendering="crispEdges"/>
<text font-size="66.4" dx="0 1.3 1.3" transform="translate(1275,866.4) scale(1,1.025)">0με</text>
<line x1="1143" x2="1225" y1="930" y2="930" stroke="#ff00ff" stroke-width="6" shape-rendering="crispEdges"/>
<text font-size="66.4" dx="0 0 0 1.3 1.3" transform="translate(1241.3,956.4) scale(1,1.025)">−80με</text>
<line x1="1143" x2="1225" y1="1019" y2="1019" stroke="#008000" stroke-width="6" shape-rendering="crispEdges"/>
<text font-size="66.4" dx="0 0 0 0 1.3 1.3" transform="translate(1241.3,1045.4) scale(1,1.025)">−160με</text>
</g>
</svg>
</body></html>
